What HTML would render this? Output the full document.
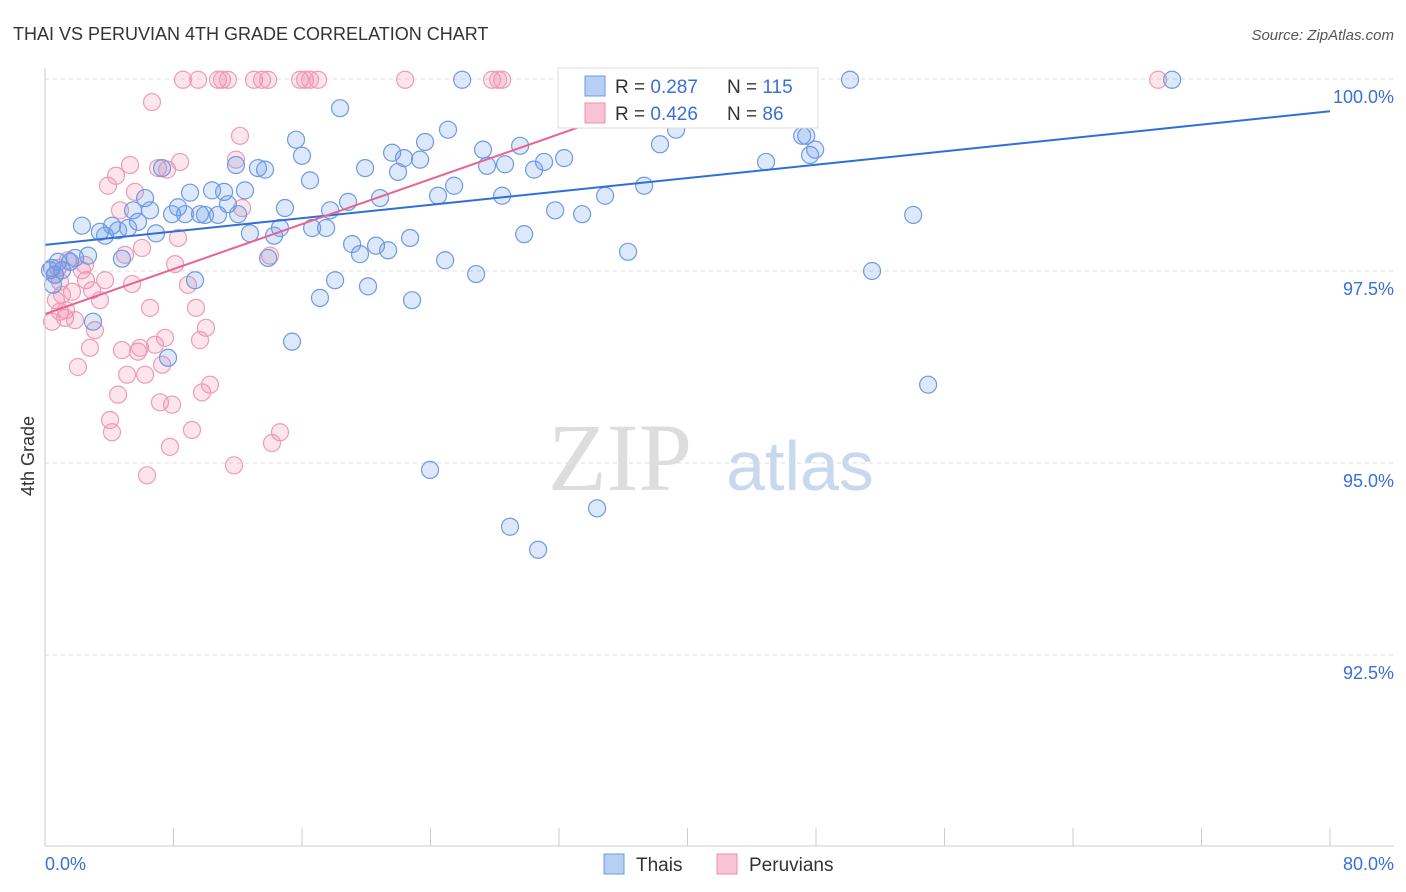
<!DOCTYPE html>
<html><head><meta charset="utf-8"><style>
body{margin:0;background:#fff;font-family:"Liberation Sans",sans-serif;}
svg{display:block}
</style></head><body>
<svg id="chart" width="1406" height="892" xmlns="http://www.w3.org/2000/svg">
<text x="13" y="40" font-size="18" fill="#333">THAI VS PERUVIAN 4TH GRADE CORRELATION CHART</text>
<text x="1394" y="40" font-size="15" fill="#555" font-style="italic" text-anchor="end">Source: ZipAtlas.com</text>
<text x="34" y="456" font-size="18" fill="#333" text-anchor="middle" transform="rotate(-90 34 456)">4th Grade</text>
<text x="620" y="490" font-size="96" fill="#ddd" font-family="Liberation Serif,serif" text-anchor="middle">ZIP</text>
<text x="800" y="490" font-size="70" fill="#c8d8ef" text-anchor="middle">atlas</text>
<g id="grid"></g><g id="ticks"></g><g id="pts"></g><g id="lines"></g>
<line x1="45" y1="68" x2="45" y2="846" stroke="#ccc"/>
<line x1="45" y1="846" x2="1394" y2="846" stroke="#ccc"/>
<text x="45" y="870" font-size="18" fill="#3a6fd8">0.0%</text>
<text x="1394" y="870" font-size="18" fill="#3a6fd8" text-anchor="end">80.0%</text>
<g>
<rect x="558" y="68" width="260" height="60" fill="#fff" stroke="#ddd"/>
<rect x="585" y="76" width="20" height="20" fill="#b6cff3" stroke="#6d9ae6"/>
<rect x="585" y="103" width="20" height="20" fill="#f8c3d3" stroke="#ee8fb0"/>
<text x="615" y="93" font-size="19" fill="#333">R = <tspan fill="#3a6fd8">0.287</tspan></text>
<text x="727" y="93" font-size="19" fill="#333">N = <tspan fill="#3a6fd8">115</tspan></text>
<text x="615" y="120" font-size="19" fill="#333">R = <tspan fill="#3a6fd8">0.426</tspan></text>
<text x="727" y="120" font-size="19" fill="#333">N = <tspan fill="#3a6fd8"> 86</tspan></text>
</g>
<g><rect x="604" y="854" width="20" height="20" fill="#b6cff3" stroke="#6d9ae6"/><text x="636" y="871" font-size="19" fill="#333">Thais</text></g>
<g><rect x="717" y="854" width="20" height="20" fill="#f8c3d3" stroke="#ee8fb0"/><text x="749" y="871" font-size="19" fill="#333">Peruvians</text></g>
</svg>
<script>
const yTicks=[100,97.5,95,92.5];
const yTickLabels=["100.0%","97.5%","95.0%","92.5%"];
const xTicks=[0,8,16,24,32,40,48,56,64,72,80];
const thaiX=[0.44,0.62,0.81,1.06,1.56,1.87,2.30,2.68,2.99,3.42,3.74,4.17,4.55,4.79,5.17,5.48,5.79,6.23,6.54,6.91,7.29,7.66,7.91,8.28,8.72,9.03,9.34,9.65,9.96,10.40,10.77,11.15,11.39,11.89,12.02,12.45,12.76,13.26,13.70,13.89,14.26,14.63,14.94,15.38,15.63,16.00,16.50,16.63,17.12,17.50,17.75,18.06,18.37,18.87,19.12,19.61,19.93,20.11,20.61,20.86,21.36,21.61,21.98,22.35,22.73,22.85,23.35,23.66,23.97,24.47,24.91,25.09,25.47,25.97,26.84,27.27,27.52,28.46,28.64,28.95,29.58,29.83,30.45,30.70,31.07,31.76,32.32,32.81,33.44,34.37,34.87,35.80,36.30,37.30,38.29,38.79,39.29,40.91,44.89,47.14,47.39,47.63,47.95,50.12,51.49,54.05,54.98,70.17,0.31,0.50];
const thaiY=[97.54,97.45,97.62,97.51,97.62,97.67,98.09,97.70,96.84,98.01,97.96,98.09,98.03,97.66,98.06,98.29,98.14,98.45,98.29,97.99,98.84,96.37,98.24,98.33,98.24,98.52,97.38,98.24,98.23,98.55,98.23,98.53,98.37,98.88,98.24,98.55,97.99,98.84,98.82,97.67,97.96,98.06,98.32,96.58,99.21,99.00,98.68,98.06,97.15,98.06,98.29,97.38,99.62,98.40,97.85,97.72,98.84,97.30,97.83,98.45,97.77,99.04,98.79,98.97,97.93,97.12,98.95,99.18,94.91,98.48,97.64,99.34,98.61,99.99,97.46,99.08,98.87,98.48,98.89,94.17,99.13,97.98,98.82,93.87,98.92,98.29,98.97,99.99,98.24,94.41,98.48,99.57,97.75,98.61,99.15,99.56,99.34,99.99,98.92,99.26,99.26,99.01,99.08,99.99,97.50,98.23,96.02,99.99,97.51,97.32];
const peruX=[0.44,0.68,0.81,0.93,1.06,1.25,1.43,1.68,1.87,2.05,2.30,2.55,2.80,2.93,3.11,3.42,3.74,3.92,4.05,4.17,4.42,4.55,4.79,4.98,5.11,5.29,5.42,5.60,5.79,5.92,6.04,6.23,6.35,6.54,6.66,6.85,7.04,7.16,7.29,7.47,7.60,7.78,7.91,8.10,8.28,8.41,8.59,8.90,9.15,9.40,9.53,9.65,9.78,10.02,10.27,10.77,11.02,11.39,11.77,11.89,12.14,12.27,13.01,13.51,13.89,14.01,14.13,14.63,15.88,16.19,16.50,17.00,22.42,27.83,28.21,28.46,69.30,0.62,0.93,1.31,2.49,4.67];
const peruY=[96.84,97.12,97.54,97.36,97.19,96.89,97.64,97.23,96.86,96.25,97.51,97.38,96.50,97.25,96.73,97.12,97.38,98.61,95.56,95.40,98.74,95.89,96.47,97.71,96.15,98.88,97.33,98.53,96.45,96.50,97.80,96.15,94.84,97.02,99.70,96.54,98.84,95.79,96.28,96.63,98.82,95.21,95.76,97.59,97.93,98.92,99.99,97.32,95.43,97.02,99.99,96.60,95.92,96.76,96.02,99.99,99.99,99.99,94.97,98.95,99.26,98.32,99.99,99.99,99.99,97.70,95.26,95.40,99.99,99.99,99.99,99.99,99.99,99.99,99.99,99.99,99.99,97.45,96.97,96.99,97.58,98.29];
const thaiTrend=[97.84,99.58];   // y at x=0 and x=80
const peruTrend=[96.94,100.05,42.5]; // y at x=0, y at end x, end x
const NS="http://www.w3.org/2000/svg";
const X=v=>45+v/80*1285;
const Y=v=>79+(100-v)/2.5*192;
function mk(t,a,p){const e=document.createElementNS(NS,t);for(const k in a)e.setAttribute(k,a[k]);p.appendChild(e);return e;}
const grid=document.getElementById('grid'),ticks=document.getElementById('ticks'),pts=document.getElementById('pts'),lines=document.getElementById('lines');
yTicks.forEach((t,i)=>{
 const l=mk('line',{x1:45,x2:1394,y1:Y(t),y2:Y(t),stroke:'#ddd','stroke-dasharray':'4 4'},grid);
 
 
 const tx=mk('text',{x:1394,y:Y(t)+24,'font-size':18,fill:'#3a6fd8','text-anchor':'end'},ticks);
 tx.textContent=yTickLabels[i];
 
 
});
xTicks.forEach(t=>{
 const l=mk('line',{x1:X(t),x2:X(t),y1:828,y2:846,stroke:'#ccc'},ticks);
 
 
});
peruX.forEach((v,i)=>{
 const c=mk('circle',{cx:X(v),cy:Y(peruY[i]),r:8.5,fill:'rgba(240,140,170,0.22)',stroke:'#ef9ab8','stroke-width':1.2},pts);
 
 
});
thaiX.forEach((v,i)=>{
 const c=mk('circle',{cx:X(v),cy:Y(thaiY[i]),r:8.5,fill:'rgba(100,150,230,0.22)',stroke:'#6d9ae6','stroke-width':1.2},pts);
 
 
});
const tl=mk('line',{x1:X(0),y1:Y(thaiTrend[0]),x2:X(80),y2:Y(thaiTrend[1]),stroke:'#2f6fd6','stroke-width':2},lines);


const pl=mk('line',{x1:X(0),y1:Y(peruTrend[0]),x2:X(peruTrend[2]),y2:Y(peruTrend[1]),stroke:'#e8648f','stroke-width':2},lines);


</script>
</body></html>
